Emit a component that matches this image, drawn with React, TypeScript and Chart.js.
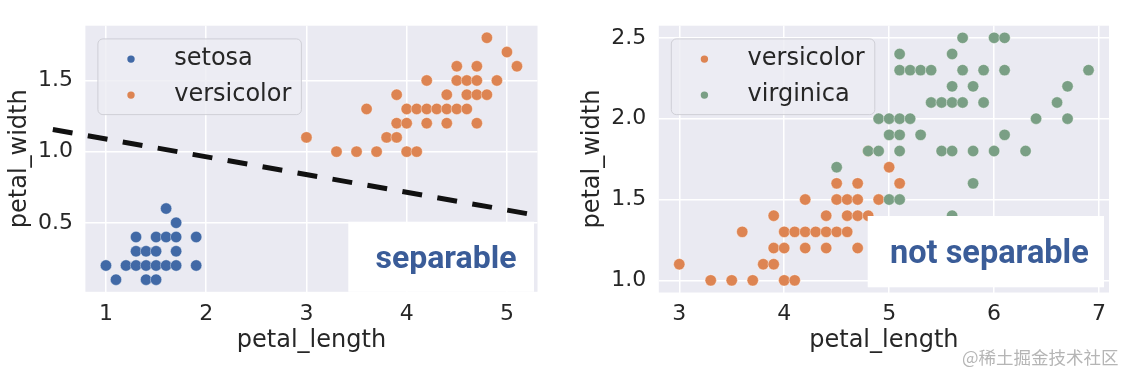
import React, { useEffect, useRef } from "react";
import { Chart, registerables } from "chart.js";

Chart.register(...registerables);

// ---------------- data (petal_length, petal_width) ----------------
const setosaLength = [1.6, 1.7, 1.3, 1.5, 1.6, 1.7, 1.9, 1.3, 1.4, 1.5, 1.7, 1.0, 1.2, 1.3, 1.4, 1.5, 1.6, 1.7, 1.9, 1.1, 1.4, 1.5];
const setosaWidth = [0.6, 0.5, 0.4, 0.4, 0.4, 0.4, 0.4, 0.3, 0.3, 0.3, 0.3, 0.2, 0.2, 0.2, 0.2, 0.2, 0.2, 0.2, 0.2, 0.1, 0.1, 0.1];

const versicolorLength = [3.0, 3.3, 3.5, 3.7, 4.0, 4.1, 3.8, 3.9, 3.9, 4.0, 4.2, 4.4, 4.7, 3.6, 4.0, 4.1, 4.2, 4.3, 4.4, 4.5, 4.6, 3.9, 4.4, 4.6, 4.7, 4.8, 4.2, 4.5, 4.6, 4.7, 4.9, 4.5, 4.7, 5.1, 5.0, 4.8];
const versicolorWidth = [1.1, 1.0, 1.0, 1.0, 1.0, 1.0, 1.1, 1.1, 1.2, 1.2, 1.2, 1.2, 1.2, 1.3, 1.3, 1.3, 1.3, 1.3, 1.3, 1.3, 1.3, 1.4, 1.4, 1.4, 1.4, 1.4, 1.5, 1.5, 1.5, 1.5, 1.5, 1.6, 1.6, 1.6, 1.7, 1.8];

const virginicaLength = [
  5.7, 6.0, 6.1,
  5.1, 5.6,
  5.1, 5.2, 5.3, 5.4, 5.7, 5.9, 6.1, 6.9,
  5.6, 5.8, 6.7,
  5.4, 5.5, 5.6, 5.7, 5.9, 6.6,
  4.9, 5.0, 5.1, 5.2, 6.4, 6.7,
  5.0, 5.1, 5.3, 6.1,
  4.8, 4.9, 5.1, 5.5, 5.6, 5.8, 6.0, 6.3,
  4.5,
  5.8,
  5.0, 5.1,
  5.6,
];
const virginicaWidth = [
  2.5, 2.5, 2.5,
  2.4, 2.4,
  2.3, 2.3, 2.3, 2.3, 2.3, 2.3, 2.3, 2.3,
  2.2, 2.2, 2.2,
  2.1, 2.1, 2.1, 2.1, 2.1, 2.1,
  2.0, 2.0, 2.0, 2.0, 2.0, 2.0,
  1.9, 1.9, 1.9, 1.9,
  1.8, 1.8, 1.8, 1.8, 1.8, 1.8, 1.8, 1.8,
  1.7,
  1.6,
  1.5, 1.5,
  1.4,
];

// dashed separating line (left panel)
const boundaryLength = [0.47, 5.3];
const boundaryWidth = [1.155, 0.552];

// ticks
const leftXTicks = [1, 2, 3, 4, 5];
const leftYTicks = [0.5, 1.0, 1.5];
const rightXTicks = [3, 4, 5, 6, 7];
const rightYTicks = [1.0, 1.5, 2.0, 2.5];

const xTitle = "petal_length";
const yTitle = "petal_width";
const leftNote = "separable";
const rightNote = "not separable";
const watermark = "@稀土掘金技术社区";

// ---------------- styles ----------------
const C_SETOSA = "#4169a6";
const C_VERSI = "#dd8452";
const C_VIRG = "#7a9f85";
const AX_BG = "#eaeaf2";
const TXT = "#262626";
const FONT = "DejaVu Sans";
const H = 374;

type Series = { label: string; xs: number[]; ys: number[]; color: string; order: number };
type Note = { text: string; boxL: number; boxT: number; boxW: number; boxH: number; textX: number; baseline: number; size: number };
type Panel = {
  width: number;
  axesLeft: number;
  axesRight: number;
  axesTop: number;
  axesBottom: number;
  series: Series[];
  line?: { xs: number[]; ys: number[] };
  xTicks: number[];
  yTicks: number[];
  note: Note;
};

function padLimits(v: number[]): [number, number] {
  const mn = Math.min(...v);
  const mx = Math.max(...v);
  const pad = (mx - mn) * 0.05;
  return [mn - pad, mx + pad];
}

function buildChart(canvas: HTMLCanvasElement, p: Panel) {
  const allX = p.series.flatMap((s) => s.xs);
  const allY = p.series.flatMap((s) => s.ys);
  const [xMin, xMax] = padLimits(allX);
  const [yMin, yMax] = padLimits(allY);

  const datasets: any[] = p.series.map((s) => ({
    label: s.label,
    data: s.xs.map((x, i) => ({ x, y: s.ys[i] })),
    pointBackgroundColor: s.color,
    backgroundColor: s.color,
    pointBorderColor: "rgba(255,255,255,0.6)",
    borderColor: "rgba(255,255,255,0.6)",
    pointBorderWidth: 0.7,
    pointRadius: 5.7,
    pointHoverRadius: 5.7,
    order: s.order,
  }));
  if (p.line) {
    datasets.push({
      label: "boundary",
      data: p.line.xs.map((x, i) => ({ x, y: p.line!.ys[i] })),
      showLine: true,
      borderColor: "#111111",
      backgroundColor: "#111111",
      borderWidth: 5,
      borderDash: [20, 15.5],
      borderCapStyle: "butt",
      pointRadius: 0,
      pointHoverRadius: 0,
      clip: false,
      fill: false,
      order: 0,
    });
  }

  const yTitleCenter = p.axesLeft - 66;
  const tickFont = { family: FONT, size: 22 };
  const titleFont = { family: FONT, size: 24 };

  const bgPlugin = {
    id: "axbg",
    beforeDraw(chart: any) {
      const a = chart.chartArea;
      const ctx = chart.ctx;
      ctx.save();
      ctx.fillStyle = AX_BG;
      ctx.fillRect(a.left, a.top, a.right - a.left, a.bottom - a.top);
      ctx.restore();
    },
  };

  const legendPlugin = {
    id: "frameLegend",
    afterDraw(chart: any) {
      const ctx = chart.ctx;
      const a = chart.chartArea;
      const fs = 24;
      ctx.save();
      ctx.font = `${fs}px "${FONT}"`;
      const tw = Math.max(...p.series.map((s) => ctx.measureText(s.label).width));
      const x0 = a.left + 0.5 * fs;
      const y0 = a.top + 0.53 * fs;
      const w = 0.4 * fs * 2 + 2 * fs + 0.8 * fs + tw;
      const h = 75.7;
      ctx.beginPath();
      (ctx as any).roundRect(x0 + 0.5, y0 + 0.5, w, h, 5);
      ctx.fillStyle = "rgba(236,236,243,0.8)";
      ctx.fill();
      ctx.strokeStyle = "#cfcfd6";
      ctx.lineWidth = 1;
      ctx.stroke();
      p.series.forEach((s, i) => {
        const cy = y0 + 20.7 + i * 36;
        ctx.beginPath();
        ctx.arc(x0 + 0.4 * fs + fs, cy, 3.7, 0, Math.PI * 2);
        ctx.fillStyle = s.color;
        ctx.fill();
        ctx.fillStyle = TXT;
        ctx.textBaseline = "middle";
        ctx.textAlign = "left";
        ctx.fillText(s.label, x0 + 0.4 * fs + 2 * fs + 0.8 * fs, cy);
      });
      ctx.restore();
    },
  };

  const notePlugin = {
    id: "note",
    afterDraw(chart: any) {
      const ctx = chart.ctx;
      const n = p.note;
      ctx.save();
      ctx.fillStyle = "#ffffff";
      ctx.fillRect(n.boxL, n.boxT, n.boxW, n.boxH);
      ctx.font = `bold ${n.size}px Roboto`;
      ctx.fillStyle = "#3a5c98";
      ctx.textBaseline = "alphabetic";
      ctx.textAlign = "left";
      ctx.fillText(n.text, n.textX, n.baseline);
      ctx.restore();
    },
  };

  return new Chart(canvas, {
    type: "scatter",
    data: { datasets },
    plugins: [bgPlugin, legendPlugin, notePlugin],
    options: {
      animation: false,
      responsive: false,
      devicePixelRatio: 1,
      events: [],
      layout: {
        padding: { left: 0, top: p.axesTop, right: p.width - p.axesRight, bottom: 0 },
      },
      plugins: { legend: { display: false }, tooltip: { enabled: false } },
      scales: {
        x: {
          type: "linear",
          min: xMin,
          max: xMax,
          afterFit: (s: any) => {
            s.height = H - p.axesBottom;
          },
          afterBuildTicks: (s: any) => {
            s.ticks = p.xTicks.map((v) => ({ value: v }));
          },
          grid: { color: "#ffffff", lineWidth: 1.5, drawTicks: false },
          border: { display: false },
          ticks: {
            font: tickFont,
            color: TXT,
            padding: 9,
            maxRotation: 0,
            autoSkip: false,
            callback: (v: any) => String(v),
          },
          title: {
            display: true,
            text: xTitle,
            font: titleFont,
            color: TXT,
            padding: { top: 0, bottom: 19 },
          },
        },
        y: {
          type: "linear",
          min: yMin,
          max: yMax,
          afterFit: (s: any) => {
            s.width = p.axesLeft;
          },
          afterBuildTicks: (s: any) => {
            s.ticks = p.yTicks.map((v) => ({ value: v }));
          },
          grid: { color: "#ffffff", lineWidth: 1.5, drawTicks: false },
          border: { display: false },
          ticks: {
            font: tickFont,
            color: TXT,
            padding: 12.5,
            autoSkip: false,
            callback: (v: any) => Number(v).toFixed(1),
          },
          title: {
            display: true,
            text: yTitle,
            font: titleFont,
            color: TXT,
            padding: { top: yTitleCenter - 14.4, bottom: 0 },
          },
        },
      },
    } as any,
  });
}

const leftPanel: Panel = {
  width: 560,
  axesLeft: 85.4,
  axesRight: 537.5,
  axesTop: 12.3,
  axesBottom: 291.8,
  series: [
    { label: "setosa", xs: setosaLength, ys: setosaWidth, color: C_SETOSA, order: 2 },
    { label: "versicolor", xs: versicolorLength, ys: versicolorWidth, color: C_VERSI, order: 1 },
  ],
  line: { xs: boundaryLength, ys: boundaryWidth },
  xTicks: leftXTicks,
  yTicks: leftYTicks,
  note: { text: leftNote, boxL: 348.3, boxT: 221.7, boxW: 185.7, boxH: 70.1, textX: 375.5, baseline: 268.3, size: 32 },
};

const rightPanel: Panel = {
  width: 568,
  axesLeft: 98.8,
  axesRight: 549,
  axesTop: 12.3,
  axesBottom: 292.5,
  series: [
    { label: "versicolor", xs: versicolorLength, ys: versicolorWidth, color: C_VERSI, order: 2 },
    { label: "virginica", xs: virginicaLength, ys: virginicaWidth, color: C_VIRG, order: 1 },
  ],
  xTicks: rightXTicks,
  yTicks: rightYTicks,
  note: { text: rightNote, boxL: 307.7, boxT: 216, boxW: 236.3, boxH: 71.3, textX: 330, baseline: 262.7, size: 32.5 },
};

export default function App() {
  const leftRef = useRef<HTMLCanvasElement | null>(null);
  const rightRef = useRef<HTMLCanvasElement | null>(null);

  useEffect(() => {
    const c1 = buildChart(leftRef.current!, leftPanel);
    const c2 = buildChart(rightRef.current!, rightPanel);
    return () => {
      c1.destroy();
      c2.destroy();
    };
  }, []);

  return (
    <div style={{ position: "absolute", left: 0, top: 0, width: 1128, height: H, background: "#ffffff", overflow: "hidden" }}>
      <canvas ref={leftRef} width={560} height={H} style={{ position: "absolute", left: 0, top: 0 }} />
      <canvas ref={rightRef} width={568} height={H} style={{ position: "absolute", left: 560, top: 0 }} />
      <div
        style={{
          position: "absolute",
          left: 962,
          top: 346,
          fontFamily: "'Noto Sans CJK SC'",
          fontSize: 17.5,
          lineHeight: "21px",
          color: "#b5b5b5",
          whiteSpace: "nowrap",
        }}
      >
        {watermark}
      </div>
    </div>
  );
}
